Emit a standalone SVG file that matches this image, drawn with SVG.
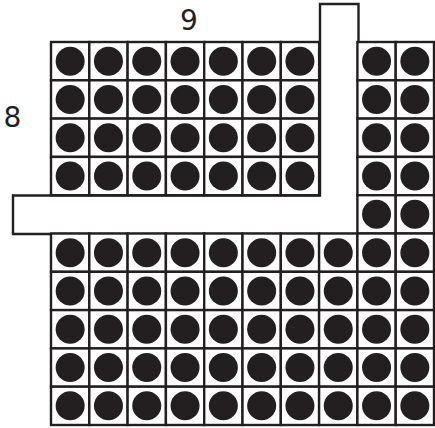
<svg xmlns="http://www.w3.org/2000/svg" xmlns:xlink="http://www.w3.org/1999/xlink" width="435" height="428" viewBox="0 0 435 428">
<style>
.ln{fill:#fff;stroke:#231f20;stroke-width:2.4}
.dot{fill:#231f20}
.lbl{font-family:"DejaVu Sans","Liberation Sans",sans-serif;font-size:28px;fill:#231f20}
</style>
<defs>
<g id="cell"><rect class="ln" x="0" y="0" width="38.3" height="38.3"/><circle class="dot" cx="19.15" cy="19.15" r="14.5"/></g>
</defs>
<rect width="435" height="428" fill="#fff"/>
<g id="strip"><path class="ln" d="M320,4 H358.5 V234 H13 V195.5 H320 Z"/></g>
<g id="grid">
<g id="row0"><use href="#cell" x="51" y="42"/><use href="#cell" x="89.3" y="42"/><use href="#cell" x="127.6" y="42"/><use href="#cell" x="165.9" y="42"/><use href="#cell" x="204.2" y="42"/><use href="#cell" x="242.5" y="42"/><use href="#cell" x="280.8" y="42"/><use href="#cell" x="357.4" y="42"/><use href="#cell" x="395.7" y="42"/></g>
<g id="row1"><use href="#cell" x="51" y="80.3"/><use href="#cell" x="89.3" y="80.3"/><use href="#cell" x="127.6" y="80.3"/><use href="#cell" x="165.9" y="80.3"/><use href="#cell" x="204.2" y="80.3"/><use href="#cell" x="242.5" y="80.3"/><use href="#cell" x="280.8" y="80.3"/><use href="#cell" x="357.4" y="80.3"/><use href="#cell" x="395.7" y="80.3"/></g>
<g id="row2"><use href="#cell" x="51" y="118.6"/><use href="#cell" x="89.3" y="118.6"/><use href="#cell" x="127.6" y="118.6"/><use href="#cell" x="165.9" y="118.6"/><use href="#cell" x="204.2" y="118.6"/><use href="#cell" x="242.5" y="118.6"/><use href="#cell" x="280.8" y="118.6"/><use href="#cell" x="357.4" y="118.6"/><use href="#cell" x="395.7" y="118.6"/></g>
<g id="row3"><use href="#cell" x="51" y="156.9"/><use href="#cell" x="89.3" y="156.9"/><use href="#cell" x="127.6" y="156.9"/><use href="#cell" x="165.9" y="156.9"/><use href="#cell" x="204.2" y="156.9"/><use href="#cell" x="242.5" y="156.9"/><use href="#cell" x="280.8" y="156.9"/><use href="#cell" x="357.4" y="156.9"/><use href="#cell" x="395.7" y="156.9"/></g>
<g id="row4"><use href="#cell" x="357.4" y="195.2"/><use href="#cell" x="395.7" y="195.2"/></g>
<g id="row5"><use href="#cell" x="51" y="233.5"/><use href="#cell" x="89.3" y="233.5"/><use href="#cell" x="127.6" y="233.5"/><use href="#cell" x="165.9" y="233.5"/><use href="#cell" x="204.2" y="233.5"/><use href="#cell" x="242.5" y="233.5"/><use href="#cell" x="280.8" y="233.5"/><use href="#cell" x="319.1" y="233.5"/><use href="#cell" x="357.4" y="233.5"/><use href="#cell" x="395.7" y="233.5"/></g>
<g id="row6"><use href="#cell" x="51" y="271.8"/><use href="#cell" x="89.3" y="271.8"/><use href="#cell" x="127.6" y="271.8"/><use href="#cell" x="165.9" y="271.8"/><use href="#cell" x="204.2" y="271.8"/><use href="#cell" x="242.5" y="271.8"/><use href="#cell" x="280.8" y="271.8"/><use href="#cell" x="319.1" y="271.8"/><use href="#cell" x="357.4" y="271.8"/><use href="#cell" x="395.7" y="271.8"/></g>
<g id="row7"><use href="#cell" x="51" y="310.1"/><use href="#cell" x="89.3" y="310.1"/><use href="#cell" x="127.6" y="310.1"/><use href="#cell" x="165.9" y="310.1"/><use href="#cell" x="204.2" y="310.1"/><use href="#cell" x="242.5" y="310.1"/><use href="#cell" x="280.8" y="310.1"/><use href="#cell" x="319.1" y="310.1"/><use href="#cell" x="357.4" y="310.1"/><use href="#cell" x="395.7" y="310.1"/></g>
<g id="row8"><use href="#cell" x="51" y="348.4"/><use href="#cell" x="89.3" y="348.4"/><use href="#cell" x="127.6" y="348.4"/><use href="#cell" x="165.9" y="348.4"/><use href="#cell" x="204.2" y="348.4"/><use href="#cell" x="242.5" y="348.4"/><use href="#cell" x="280.8" y="348.4"/><use href="#cell" x="319.1" y="348.4"/><use href="#cell" x="357.4" y="348.4"/><use href="#cell" x="395.7" y="348.4"/></g>
<g id="row9"><use href="#cell" x="51" y="386.7"/><use href="#cell" x="89.3" y="386.7"/><use href="#cell" x="127.6" y="386.7"/><use href="#cell" x="165.9" y="386.7"/><use href="#cell" x="204.2" y="386.7"/><use href="#cell" x="242.5" y="386.7"/><use href="#cell" x="280.8" y="386.7"/><use href="#cell" x="319.1" y="386.7"/><use href="#cell" x="357.4" y="386.7"/><use href="#cell" x="395.7" y="386.7"/></g>
</g>
<g id="labels">
<text class="lbl" x="189" y="30" text-anchor="middle">9</text>
<text class="lbl" x="12.5" y="127" text-anchor="middle">8</text>
</g>
</svg>
